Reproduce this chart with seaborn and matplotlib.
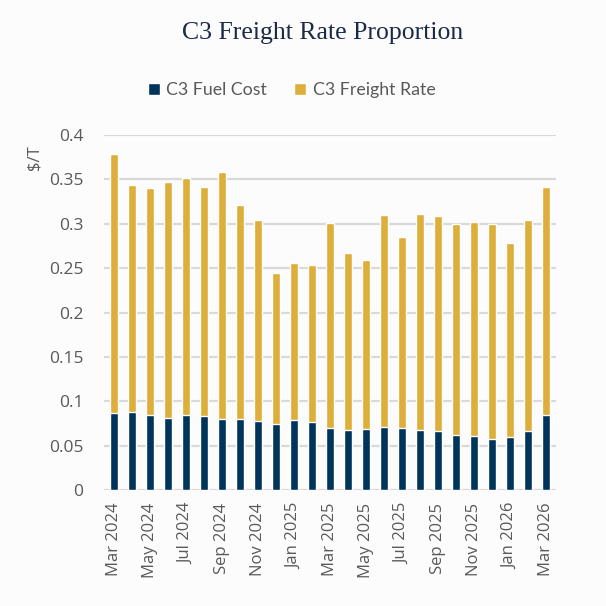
import numpy as np
import pandas as pd
import matplotlib
matplotlib.use("Agg")
import matplotlib.pyplot as plt
from matplotlib.patches import Patch
import seaborn as sns

# monthly values, $/T
months = ['Mar 2024', 'Apr 2024', 'May 2024', 'Jun 2024', 'Jul 2024', 'Aug 2024',
          'Sep 2024', 'Oct 2024', 'Nov 2024', 'Dec 2024', 'Jan 2025', 'Feb 2025',
          'Mar 2025', 'Apr 2025', 'May 2025', 'Jun 2025', 'Jul 2025', 'Aug 2025',
          'Sep 2025', 'Oct 2025', 'Nov 2025', 'Dec 2025', 'Jan 2026', 'Feb 2026',
          'Mar 2026']
freight_rate = [0.379, 0.344, 0.340, 0.347, 0.352, 0.341, 0.358, 0.321, 0.304,
                0.245, 0.256, 0.254, 0.301, 0.267, 0.259, 0.310, 0.285, 0.311,
                0.309, 0.300, 0.302, 0.300, 0.278, 0.304, 0.341]
fuel_cost = [0.087, 0.088, 0.084, 0.081, 0.085, 0.083, 0.080, 0.080, 0.078,
             0.074, 0.079, 0.077, 0.070, 0.068, 0.069, 0.071, 0.070, 0.068,
             0.066, 0.062, 0.061, 0.058, 0.060, 0.067, 0.085]

navy = '#00345a'
gold = '#deae3a'
grey_txt = '#595959'

df = pd.DataFrame({'month': months, 'freight': freight_rate, 'fuel': fuel_cost})

sns.set_style('white')
plt.rcParams['font.family'] = ['Open Sans', 'DejaVu Sans']

fig = plt.figure(figsize=(6.06, 6.06), dpi=100, facecolor='#fcfcfd')
ax = fig.add_axes([0.1716, 0.1914, 0.7459, 0.5858])
ax.set_facecolor('none')

sns.barplot(data=df, x='month', y='freight', color=gold, width=0.45,
            saturation=1, ax=ax, zorder=3)
sns.barplot(data=df, x='month', y='fuel', color=navy, width=0.45,
            saturation=1, ax=ax, zorder=4)

ax.set_ylim(0, 0.4)
ax.set_xlim(-0.55, 24.55)
yt = np.arange(0, 0.41, 0.05)
ax.set_yticks(yt)
ax.set_yticklabels(['0', '0.05', '0.1', '0.15', '0.2', '0.25', '0.3', '0.35', '0.4'])
ax.set_xticks(range(0, len(months), 2))
ax.set_xticklabels(months[::2], rotation=90)
ax.tick_params(axis='both', length=0, labelsize=12, colors=grey_txt)
ax.tick_params(axis='y', labelsize=12.5, pad=15)
ax.tick_params(axis='x', pad=9)
ax.grid(axis='y', color='#d9d9d9', linewidth=1.6, zorder=0)
ax.grid(axis='x', visible=False)
for s in ax.spines.values():
    s.set_visible(False)

ax.set_xlabel('')
ax.set_ylabel('$/T', color=grey_txt, fontsize=12)
ax.yaxis.set_label_coords(-0.135, 0.937)

fig.text(0.532, 0.945, 'C3 Freight Rate Proportion', ha='center', va='center',
         fontsize=18.5, color='#1b2a47', family=['Liberation Serif', 'DejaVu Serif'])

handles = [Patch(facecolor=navy, label='C3 Fuel Cost'),
           Patch(facecolor=gold, label='C3 Freight Rate')]
fig.legend(handles=handles, loc='center', bbox_to_anchor=(0.481, 0.851), ncol=2,
           frameon=False, handlelength=0.7, handleheight=0.7, handletextpad=0.35,
           columnspacing=1.5, prop={'size': 12.8, 'family': ['Lato', 'DejaVu Sans']},
           labelcolor=grey_txt)

fig.savefig('out.png', dpi=100, facecolor=fig.get_facecolor())
